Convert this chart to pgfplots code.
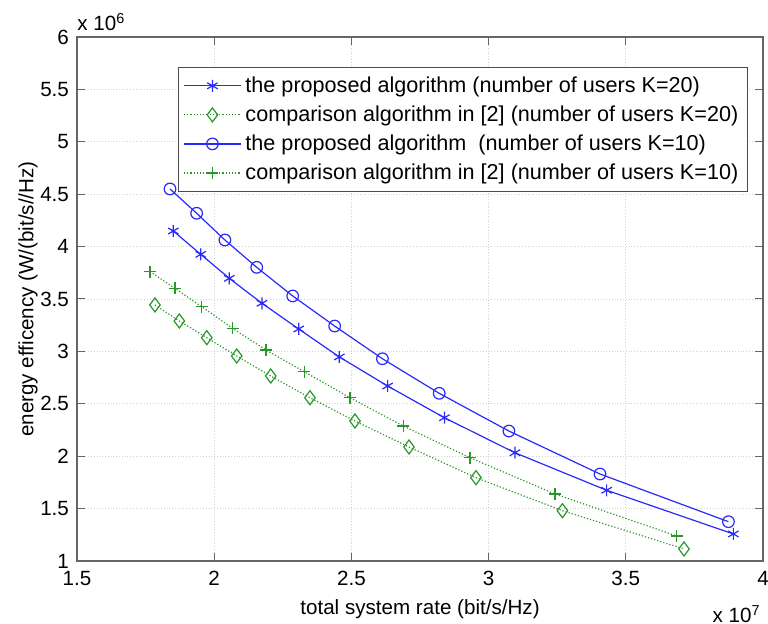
\documentclass[border=0pt]{standalone}
\usepackage{fontspec}
\setmainfont{Liberation Sans}
\usepackage{pgfplots}
\pgfplotsset{compat=1.18}

\definecolor{mblue}{RGB}{40,40,255}
\definecolor{mgreen}{RGB}{40,150,40}

\begin{document}
\begin{tikzpicture}
\begin{axis}[
    scale only axis,
    width=343pt, height=262pt,
    font=\fontsize{10.3}{12}\selectfont,
    /pgf/number format/assume math mode=true,
    xmin=1.5, xmax=4, ymin=1, ymax=6,
    xtick={1.5,2,...,4}, ytick={1,1.5,...,6},
    xticklabels={1.5,2,2.5,3,3.5,4},
    yticklabels={1,1.5,2,2.5,3,3.5,4,4.5,5,5.5,6},
    tick align=inside,
    major tick length=4pt,
    axis line style={gray!80!black, line width=0.6pt},
    tick style={gray!80!black, line width=0.5pt},
    grid=major,
    major grid style={gray!35, densely dotted, line width=0.4pt},
    xlabel={total system rate (bit/s/Hz)},
    ylabel={energy efficency (W/(bit/s//Hz)},
    xlabel style={yshift=0pt},
    ylabel style={yshift=-5.5pt},
    xticklabel style={yshift=-1.5pt},
    yticklabel style={xshift=-0.5pt},
    legend style={at={(rel axis cs:0.978,0.943)}, anchor=north east,
        draw=gray!60!black, line width=0.6pt, font=\fontsize{10.8}{12.5}\selectfont,
        row sep=1.2pt, inner sep=2.5pt, cells={anchor=west}},
    legend image code/.code={
        \draw[mark repeat=2,mark phase=2,#1]
        plot coordinates {(0cm,0cm) (0.5cm,0cm) (1cm,0cm)};},
]
\addplot[mblue, line width=0.6pt, mark=asterisk, mark size=3pt] coordinates {
(1.851,4.149) (1.951,3.926) (2.055,3.697) (2.174,3.459) (2.308,3.214)
(2.456,2.947) (2.632,2.670) (2.839,2.367) (3.096,2.033) (3.430,1.675)
(3.892,1.258)};
\addlegendentry{the proposed algorithm (number of users K=20)}
\addplot[mgreen, line width=0.6pt, densely dotted, mark=diamond, mark size=3.5pt,
    mark options={solid}] coordinates {
(1.784,3.443) (1.873,3.290) (1.973,3.131) (2.082,2.956) (2.206,2.765)
(2.349,2.558) (2.513,2.336) (2.710,2.088) (2.954,1.795) (3.269,1.480)
(3.712,1.115)};
\addlegendentry{comparison algorithm in [2] (number of users K=20)}
\addplot[mblue, line width=0.6pt, mark=o, mark size=2.9pt] coordinates {
(1.839,4.550) (1.936,4.318) (2.039,4.063) (2.155,3.802) (2.286,3.529)
(2.439,3.242) (2.613,2.930) (2.820,2.600) (3.074,2.240) (3.406,1.830)
(3.874,1.375)};
\addlegendentry{the proposed algorithm\ \ (number of users K=10)}
\addplot[mgreen, line width=0.6pt, densely dotted, mark=+, mark size=3pt,
    mark options={solid}] coordinates {
(1.766,3.761) (1.857,3.602) (1.954,3.427) (2.067,3.220) (2.189,3.013)
(2.328,2.806) (2.495,2.558) (2.689,2.288) (2.932,1.986) (3.242,1.639)
(3.685,1.239)};
\addlegendentry{comparison algorithm in [2] (number of users K=10)}
\coordinate (ll) at (rel axis cs:0,0);
\coordinate (ur) at (rel axis cs:1,1);
\end{axis}
\node[anchor=south west, inner sep=0pt, font=\fontsize{10.3}{12}\selectfont]
    at ([yshift=3pt]ll |- ur) {x 10\textsuperscript{6}};
\node[anchor=north east, inner sep=0pt, font=\fontsize{10.3}{12}\selectfont]
    at ([xshift=-1pt,yshift=-22pt]ur |- ll) {x 10\textsuperscript{7}};
\pgfresetboundingbox
\useasboundingbox ([xshift=-38.5pt,yshift=-31.5pt]ll) rectangle ([xshift=2.5pt,yshift=18.5pt]ur);
\end{tikzpicture}
\end{document}
